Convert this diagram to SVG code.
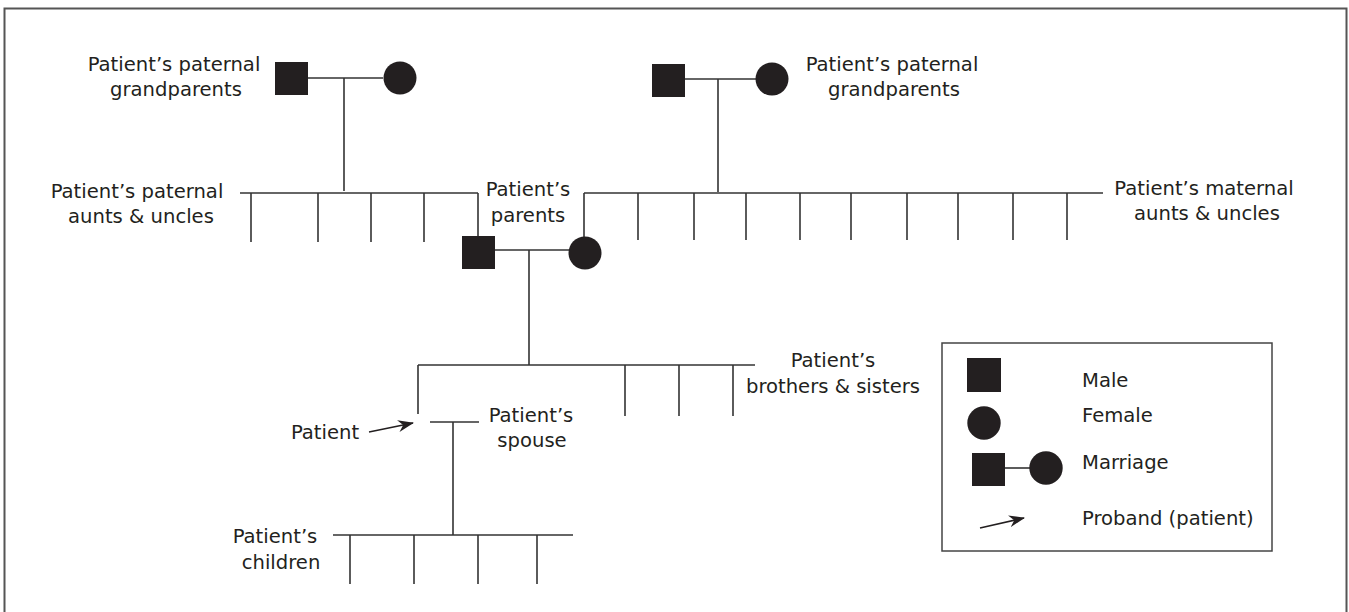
<svg xmlns="http://www.w3.org/2000/svg" width="1349" height="612" viewBox="0 0 1349 612">
<style>
  .t { font-family: "DejaVu Sans", "Open Sans", "Liberation Sans", sans-serif; font-size: 19.6px; fill: #231f20; }
  .m { text-anchor: middle; }
  .ln { stroke: #333333; stroke-width: 1.6; fill: none; }
  .sh { fill: #231f20; }
</style>
<defs>
  <marker id="arr" viewBox="0 0 16 12" refX="15" refY="6" markerWidth="16" markerHeight="12" markerUnits="userSpaceOnUse" orient="auto">
    <path d="M0,0 L16,6 L0,12 L5,6 z" fill="#231f20"/>
  </marker>
</defs>
<rect x="4.5" y="8.5" width="1342" height="612" fill="#ffffff" stroke="#555555" stroke-width="2"/>

<g id="connectors">
  <line class="ln" x1="308" y1="78" x2="383" y2="78"/>
  <line class="ln" x1="344" y1="78" x2="344" y2="191"/>
  <line class="ln" x1="240" y1="193" x2="478" y2="193"/>
  <line class="ln" x1="251" y1="193" x2="251" y2="242"/>
  <line class="ln" x1="318" y1="193" x2="318" y2="242"/>
  <line class="ln" x1="371" y1="193" x2="371" y2="242"/>
  <line class="ln" x1="424" y1="193" x2="424" y2="242"/>
  <line class="ln" x1="478" y1="193" x2="478" y2="236"/>
  <line class="ln" x1="685" y1="79" x2="756" y2="79"/>
  <line class="ln" x1="718" y1="79" x2="718" y2="192"/>
  <line class="ln" x1="584" y1="193" x2="1103" y2="193"/>
  <line class="ln" x1="584" y1="193" x2="584" y2="237"/>
  <line class="ln" x1="638" y1="193" x2="638" y2="240"/>
  <line class="ln" x1="694" y1="193" x2="694" y2="240"/>
  <line class="ln" x1="746" y1="193" x2="746" y2="240"/>
  <line class="ln" x1="800" y1="193" x2="800" y2="240"/>
  <line class="ln" x1="851" y1="193" x2="851" y2="240"/>
  <line class="ln" x1="907" y1="193" x2="907" y2="240"/>
  <line class="ln" x1="958" y1="193" x2="958" y2="240"/>
  <line class="ln" x1="1013" y1="193" x2="1013" y2="240"/>
  <line class="ln" x1="1067" y1="193" x2="1067" y2="240"/>
  <line class="ln" x1="495" y1="250" x2="569" y2="250"/>
  <line class="ln" x1="529" y1="250" x2="529" y2="365"/>
  <line class="ln" x1="418" y1="365" x2="755" y2="365"/>
  <line class="ln" x1="418" y1="365" x2="418" y2="414"/>
  <line class="ln" x1="625" y1="365" x2="625" y2="416"/>
  <line class="ln" x1="679" y1="365" x2="679" y2="416"/>
  <line class="ln" x1="733" y1="365" x2="733" y2="416"/>
  <line class="ln" x1="430" y1="422" x2="479" y2="422"/>
  <line class="ln" x1="453" y1="422" x2="453" y2="535"/>
  <line class="ln" x1="333" y1="535" x2="573" y2="535"/>
  <line class="ln" x1="350" y1="535" x2="350" y2="584"/>
  <line class="ln" x1="414" y1="535" x2="414" y2="584"/>
  <line class="ln" x1="478" y1="535" x2="478" y2="584"/>
  <line class="ln" x1="537" y1="535" x2="537" y2="584"/>
  <line x1="369" y1="432" x2="413" y2="423" stroke="#231f20" stroke-width="1.5" marker-end="url(#arr)"/>
</g>

<g id="pat-grandfather"><rect class="sh" x="275" y="62" width="33" height="33"/></g>
<g id="pat-grandmother"><circle class="sh" cx="400" cy="78" r="16.5"/></g>
<g id="mat-grandfather"><rect class="sh" x="652" y="64" width="33" height="33"/></g>
<g id="mat-grandmother"><circle class="sh" cx="772" cy="79" r="16.5"/></g>
<g id="father"><rect class="sh" x="462" y="236" width="33" height="33"/></g>
<g id="mother"><circle class="sh" cx="585" cy="253" r="16.5"/></g>

<g id="labels">
  <text class="t m"><tspan x="174" y="71">Patient’s paternal</tspan><tspan x="176" y="96">grandparents</tspan></text>
  <text class="t m"><tspan x="892" y="71">Patient’s paternal</tspan><tspan x="894" y="96">grandparents</tspan></text>
  <text class="t m"><tspan x="137" y="198">Patient’s paternal</tspan><tspan x="141" y="223">aunts &amp; uncles</tspan></text>
  <text class="t m"><tspan x="528" y="196">Patient’s</tspan><tspan x="528" y="222">parents</tspan></text>
  <text class="t m"><tspan x="1204" y="195">Patient’s maternal</tspan><tspan x="1207" y="220">aunts &amp; uncles</tspan></text>
  <text class="t m"><tspan x="833" y="367">Patient’s</tspan><tspan x="833" y="393">brothers &amp; sisters</tspan></text>
  <text class="t m" x="325" y="439">Patient</text>
  <text class="t m"><tspan x="531" y="422">Patient’s</tspan><tspan x="532" y="447">spouse</tspan></text>
  <text class="t m"><tspan x="275" y="543">Patient’s</tspan><tspan x="281" y="569">children</tspan></text>
</g>

<g id="legend">
  <rect x="942" y="343" width="330" height="208" fill="none" stroke="#444444" stroke-width="1.5"/>
  <rect class="sh" x="967" y="358" width="34" height="34"/>
  <circle class="sh" cx="984" cy="423" r="16.7"/>
  <rect class="sh" x="972" y="453" width="33" height="33"/>
  <line class="ln" x1="1005" y1="468" x2="1030" y2="468"/>
  <circle class="sh" cx="1046" cy="468" r="16.7"/>
  <line x1="980" y1="528" x2="1024" y2="518" stroke="#231f20" stroke-width="1.5" marker-end="url(#arr)"/>
  <text class="t" x="1082" y="387">Male</text>
  <text class="t" x="1082" y="422">Female</text>
  <text class="t" x="1082" y="469">Marriage</text>
  <text class="t" x="1082" y="525">Proband (patient)</text>
</g>
</svg>
